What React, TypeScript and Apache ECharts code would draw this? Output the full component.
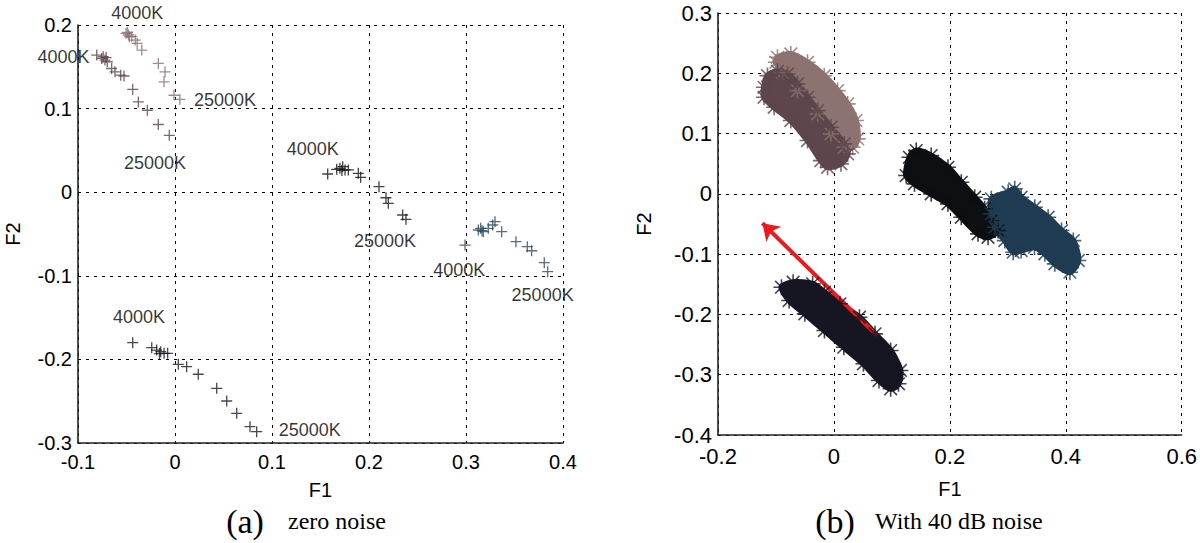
import React, { useEffect, useRef } from "react";
import * as echarts from "echarts";

// ---------- (a) zero noise : F1/F2 points per illuminant sweep (4000K -> 25000K) ----------
const zeroLight = [[-0.0505, 0.19], [-0.049, 0.191], [-0.048, 0.188], [-0.047, 0.186], [-0.0446, 0.186], [-0.041, 0.182], [-0.039, 0.178], [-0.0343, 0.17], [-0.0172, 0.154], [-0.0103, 0.144], [-0.0113, 0.132], [-0.001, 0.116], [0.005, 0.111]];
const zeroDark = [[-0.0807, 0.164], [-0.0756, 0.16], [-0.074, 0.162], [-0.0722, 0.158], [-0.071, 0.161], [-0.0698, 0.156], [-0.0653, 0.148], [-0.0619, 0.144], [-0.056, 0.14], [-0.0526, 0.139], [-0.0436, 0.123], [-0.0378, 0.108], [-0.0285, 0.098], [-0.0172, 0.081], [-0.0059, 0.068]];
const zeroBlack = [[0.1574, 0.0218], [0.1667, 0.0274], [0.17, 0.0286], [0.1729, 0.0305], [0.172, 0.026], [0.1753, 0.0266], [0.1787, 0.0266], [0.189, 0.0226], [0.1914, 0.0178], [0.2103, 0.0066], [0.2175, -0.0066], [0.2199, -0.0133], [0.2347, -0.0273], [0.2381, -0.0325]];
const zeroBlue = [[0.299, -0.0632], [0.3127, -0.0452], [0.3151, -0.0432], [0.3165, -0.046], [0.3178, -0.0472], [0.323, -0.0432], [0.3275, -0.0392], [0.3299, -0.0353], [0.3368, -0.0472], [0.3515, -0.0592], [0.3632, -0.0652], [0.3677, -0.07], [0.3807, -0.0843], [0.3842, -0.0951]];
const zeroNavy = [[-0.0436, -0.18], [-0.024, -0.186], [-0.0189, -0.1888], [-0.0148, -0.1908], [-0.016, -0.193], [-0.0113, -0.1927], [-0.0076, -0.1927], [0.0034, -0.2059], [0.012, -0.2087], [0.024, -0.2178], [0.043, -0.2346], [0.0533, -0.2498], [0.0636, -0.2645], [0.0773, -0.2805], [0.0842, -0.2865]];

const zeroLabelNames = ["4000K", "4000K", "25000K", "25000K", "4000K", "25000K", "4000K", "25000K", "4000K", "25000K"];
const zeroLabelPos = [[-0.039, 0.214], [-0.115, 0.162], [0.0516, 0.11], [-0.0206, 0.035], [0.142, 0.052], [0.2165, -0.058], [0.293, -0.093], [0.379, -0.123], [-0.037, -0.149], [0.139, -0.284]];

// ---------- (b) 40 dB noise : outlines of the point clouds ----------
const noiseLight = [[-0.0974, 0.2265], [-0.0744, 0.232], [-0.0455, 0.2182], [-0.0167, 0.196], [0.0064, 0.1713], [0.0237, 0.1492], [0.038, 0.1216], [0.041, 0.0912], [0.0323, 0.0773], [0.0178, 0.0773], [-0.0052, 0.0995], [-0.0282, 0.1327], [-0.0628, 0.1713], [-0.0886, 0.2017], [-0.1003, 0.2182]];
const noiseDark = [[-0.1206, 0.1768], [-0.1147, 0.1962], [-0.0974, 0.2033], [-0.0801, 0.199], [-0.0628, 0.1824], [-0.0455, 0.1602], [-0.0282, 0.1381], [-0.0052, 0.1105], [0.0178, 0.0829], [0.0237, 0.0663], [0.0121, 0.0498], [-0.0109, 0.0441], [-0.0225, 0.0552], [-0.0455, 0.0884], [-0.0744, 0.1216], [-0.1032, 0.1436], [-0.1206, 0.1602]];
const noiseBlack = [[0.1246, 0.0304], [0.1303, 0.0607], [0.1419, 0.0718], [0.1678, 0.0635], [0.1967, 0.0441], [0.2197, 0.0192], [0.2428, -0.0056], [0.26, -0.0249], [0.2716, -0.0443], [0.2832, -0.0609], [0.2659, -0.072], [0.2486, -0.0663], [0.2197, -0.0388], [0.1967, -0.0166], [0.1678, 0], [0.1389, 0.0166]];
const noiseBlue = [[0.2716, -0.0083], [0.3007, 0.0027], [0.3119, 0.0083], [0.323, -0.0056], [0.3466, -0.0222], [0.3696, -0.0388], [0.3927, -0.0609], [0.413, -0.0775], [0.4216, -0.1106], [0.4071, -0.13], [0.3812, -0.1161], [0.3639, -0.0995], [0.346, -0.0886], [0.323, -0.094], [0.3093, -0.0968], [0.2948, -0.0775], [0.2775, -0.0553], [0.2716, -0.0332]];
const noiseNavy = [[-0.0905, -0.1549], [-0.0704, -0.1466], [-0.0367, -0.1493], [-0.0164, -0.1631], [0.0104, -0.1824], [0.0441, -0.2046], [0.0709, -0.2322], [0.0979, -0.2599], [0.1147, -0.293], [0.1114, -0.3151], [0.0979, -0.3234], [0.0777, -0.3096], [0.0509, -0.2819], [0.0171, -0.2544], [-0.0164, -0.2267], [-0.0502, -0.199], [-0.0772, -0.1769]];

const arrowFrom = [0.0744, -0.2349];
const arrowTo = [-0.1234, -0.0487];

const colLight = "#8c7270";
const colDark = "#5d464c";
const colBlack = "#0d0f13";
const colBlue = "#1f3c52";
const colNavy = "#161623";

const PLUS = "path://M4.4,0H5.6V4.4H10V5.6H5.6V10H4.4V5.6H0V4.4H4.4Z";
const STAR = "path://M0,4.5H10V5.5H0Z M4.5,0H5.5V10H4.5Z M0.7,1.4L1.4,0.7L9.3,8.6L8.6,9.3Z M8.6,0.7L9.3,1.4L1.4,9.3L0.7,8.6Z";

const SANS = "Liberation Sans";
const SERIF = "Liberation Serif";

function fmt(v: number) {
  return String(Math.round(v * 10) / 10);
}

function axisBase(fontSize: number, margin: number) {
  return {
    type: "value" as const,
    axisLine: { show: true, onZero: false, lineStyle: { color: "#222", width: 1.6 } },
    axisTick: { show: false },
    axisLabel: { color: "#000", fontFamily: SANS, fontSize, margin, formatter: fmt },
    splitLine: { show: true, lineStyle: { color: "#000", type: [3, 5], width: 1 } },
    nameLocation: "middle" as const,
    nameTextStyle: { color: "#000", fontFamily: SANS, fontSize: 20 },
  };
}

function plusSeries(data: number[][], color: string) {
  return {
    type: "scatter",
    xAxisIndex: 0,
    yAxisIndex: 0,
    symbol: PLUS,
    symbolSize: 11,
    data,
    itemStyle: { color },
    silent: true,
  };
}

function blobSeries(outline: number[][], color: string) {
  return [
    {
      type: "custom",
      coordinateSystem: "cartesian2d",
      xAxisIndex: 1,
      yAxisIndex: 1,
      data: [outline[0]],
      silent: true,
      renderItem: (_p: any, api: any) => ({
        type: "polygon",
        shape: { points: outline.map((p) => api.coord(p)), smooth: 0.25 },
        style: { fill: color, stroke: color, lineWidth: 6, lineJoin: "round" },
      }),
    },
    {
      type: "scatter",
      xAxisIndex: 1,
      yAxisIndex: 1,
      symbol: STAR,
      symbolSize: 16,
      data: outline,
      itemStyle: { color },
      silent: true,
    },
  ];
}

export default function App() {
  const ref = useRef<HTMLDivElement>(null);
  useEffect(() => {
    const chart = echarts.init(ref.current!, null, { renderer: "svg" });
    const option: any = {
      animation: false,
      backgroundColor: "#fff",
      grid: [
        { left: 78, top: 25, width: 485, height: 418 },
        { left: 718, top: 13, width: 464, height: 422 },
      ],
      xAxis: [
        { ...axisBase(20, 9), gridIndex: 0, min: -0.1, max: 0.4, interval: 0.1, name: "F1", nameGap: 37 },
        { ...axisBase(22, 10), gridIndex: 1, min: -0.2, max: 0.6, interval: 0.2, name: "F1", nameGap: 44 },
      ],
      yAxis: [
        { ...axisBase(20, 6), gridIndex: 0, min: -0.3, max: 0.2, interval: 0.1, name: "F2", nameGap: 55 },
        { ...axisBase(22, 6), gridIndex: 1, min: -0.4, max: 0.3, interval: 0.1, name: "F2", nameGap: 64 },
      ],
      series: [
        plusSeries(zeroLight, "#8a6f71"),
        plusSeries(zeroDark, "#5b434a"),
        plusSeries(zeroBlack, "#151515"),
        plusSeries(zeroBlue, "#2c4a5e"),
        plusSeries(zeroNavy, "#1a1a28"),
        {
          type: "scatter",
          xAxisIndex: 0,
          yAxisIndex: 0,
          clip: false,
          symbol: "circle",
          symbolSize: 1,
          itemStyle: { color: "rgba(0,0,0,0)" },
          silent: true,
          data: zeroLabelPos.map((p, i) => ({ name: zeroLabelNames[i], value: p })),
          label: { show: true, position: "inside", formatter: "{b}", color: "#000", fontFamily: SANS, fontSize: 18 },
        },
        ...blobSeries(noiseLight, colLight),
        ...blobSeries(noiseDark, colDark),
        ...blobSeries(noiseBlack, colBlack),
        ...blobSeries(noiseBlue, colBlue),
        ...blobSeries(noiseNavy, colNavy),
        {
          type: "lines",
          coordinateSystem: "cartesian2d",
          xAxisIndex: 1,
          yAxisIndex: 1,
          silent: true,
          symbol: ["none", "arrow"],
          symbolSize: 16,
          lineStyle: { color: "#ea1a1d", width: 4, opacity: 1 },
          data: [{ coords: [arrowFrom, arrowTo] }],
        },
      ],
      graphic: [
        { type: "text", x: 245, y: 521, style: { text: "(a)", font: `34px "${SERIF}"`, fill: "#000", align: "center", verticalAlign: "middle" } },
        { type: "text", x: 288, y: 521, style: { text: "zero noise", font: `24px "${SERIF}"`, fill: "#000", align: "left", verticalAlign: "middle" } },
        { type: "text", x: 835, y: 521, style: { text: "(b)", font: `34px "${SERIF}"`, fill: "#000", align: "center", verticalAlign: "middle" } },
        { type: "text", x: 875, y: 521, style: { text: "With 40 dB noise", font: `24px "${SERIF}"`, fill: "#000", align: "left", verticalAlign: "middle" } },
      ],
    };
    chart.setOption(option);
    return () => chart.dispose();
  }, []);
  return <div ref={ref} style={{ position: "fixed", left: 0, top: 0, width: 1200, height: 543, background: "#fff" }} />;
}
